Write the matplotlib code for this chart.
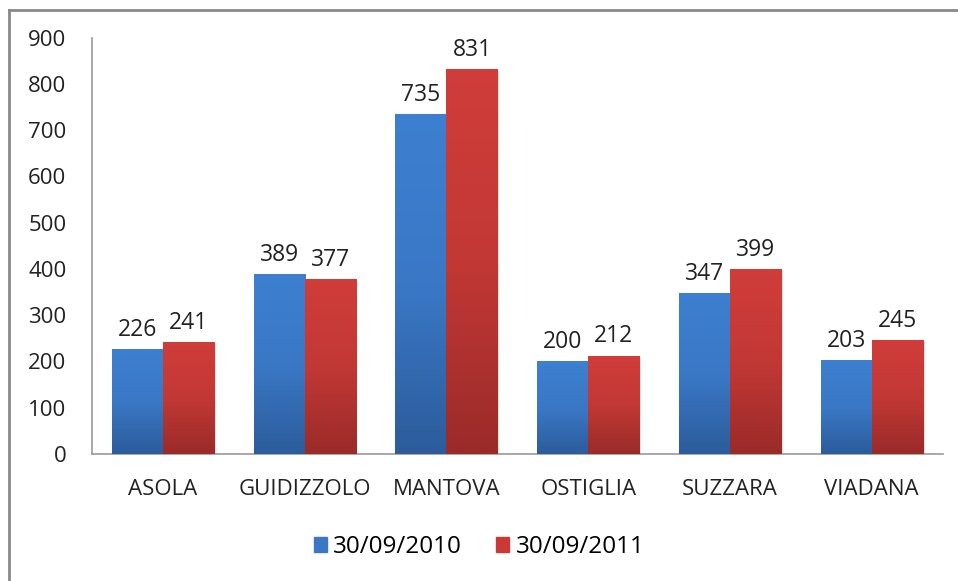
import numpy as np
import matplotlib.pyplot as plt
from matplotlib.colors import LinearSegmentedColormap
from matplotlib.lines import Line2D

# data
cities = ['ASOLA', 'GUIDIZZOLO', 'MANTOVA', 'OSTIGLIA', 'SUZZARA', 'VIADANA']
v2010 = [226, 389, 735, 200, 347, 203]
v2011 = [241, 377, 831, 212, 399, 245]
series = ['30/09/2010', '30/09/2011']

plt.rcParams['font.family'] = ['Open Sans', 'DejaVu Sans']

fig = plt.figure(figsize=(9.58, 5.81), dpi=100)
ax = fig.add_axes([0.096, 0.219, 0.888, 0.716])

blue_cm = LinearSegmentedColormap.from_list('b', ['#2c5c9b', '#3a78c6', '#3d7fd0'])
red_cm = LinearSegmentedColormap.from_list('r', ['#9a2b29', '#c23835', '#d03d3a'])
grad = np.linspace(0, 1, 256).reshape(-1, 1)

x = np.arange(len(cities))
w = 0.36
for vals, off, cm, col in [(v2010, -w/2, blue_cm, '#3a78c6'), (v2011, w/2, red_cm, '#c93a36')]:
    bars = ax.bar(x + off, vals, w, color=col, zorder=2)
    for b, v in zip(bars, vals):
        x0 = b.get_x()
        # soft shadow
        ax.add_patch(plt.Rectangle((x0 + 0.012, -8), w, v + 4, color='#000000',
                                   alpha=0.12, zorder=1, lw=0))
        ax.imshow(grad, extent=[x0, x0 + w, 0, v], origin='lower', aspect='auto',
                  cmap=cm, zorder=3)
        ax.text(b.get_x() + w/2, v + 16, str(v), ha='center', va='bottom',
                fontsize=16.5, color='#222222', zorder=4)

ax.set_xlim(-0.5, len(cities) - 0.5)
ax.set_ylim(0, 900)
ax.set_yticks(range(0, 901, 100))
ax.set_xticks(x)
ax.set_xticklabels(cities)
ax.tick_params(axis='both', length=0, labelsize=16, colors='#222222')
ax.tick_params(axis='x', pad=18)
ax.tick_params(axis='y', pad=18.5)
for s in ['top', 'right']:
    ax.spines[s].set_visible(False)
for s in ['left', 'bottom']:
    ax.spines[s].set_color('#999999')
    ax.spines[s].set_linewidth(1.2)

handles = [plt.Rectangle((0, 0), 1, 1, color='#3a78c6'),
           plt.Rectangle((0, 0), 1, 1, color='#c93a36')]
fig.legend(handles, series, loc='center', bbox_to_anchor=(0.5, 0.058), ncol=2,
           frameon=False, fontsize=17.5, handlelength=0.55, handleheight=0.55,
           handletextpad=0.25, columnspacing=1.4)

# outer frame (top and left edges visible)
fig.add_artist(Line2D([0.0095, 1.0], [0.983, 0.983], transform=fig.transFigure,
                      color='#888888', lw=2))
fig.add_artist(Line2D([0.0095, 0.0095], [0.0, 0.983], transform=fig.transFigure,
                      color='#888888', lw=2))

fig.savefig('out.png', dpi=100)
